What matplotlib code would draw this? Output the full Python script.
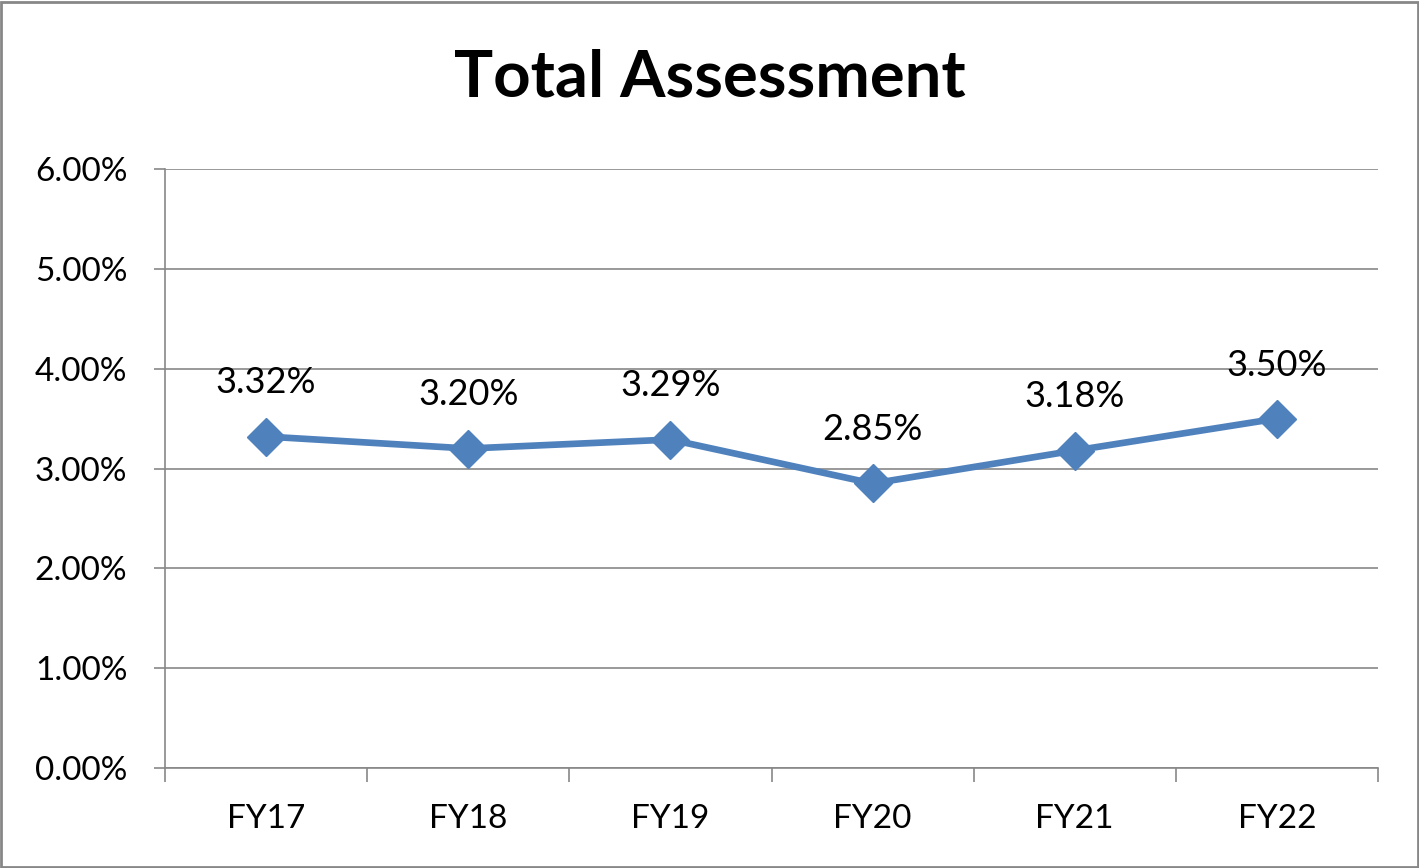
import matplotlib.pyplot as plt
from matplotlib.patches import Rectangle
from matplotlib.ticker import FixedLocator, PercentFormatter

categories = ["FY17", "FY18", "FY19", "FY20", "FY21", "FY22"]
values = [3.32, 3.20, 3.29, 2.85, 3.18, 3.50]
labels = ["3.32%", "3.20%", "3.29%", "2.85%", "3.18%", "3.50%"]

plt.rcParams['font.family'] = ['Lato', 'DejaVu Sans']

fig = plt.figure(figsize=(14.19, 8.68), dpi=100)
ax = fig.add_axes([165 / 1419, 1 - 768 / 868, 1213 / 1419, 599 / 868])

x = list(range(len(categories)))
ax.plot(x, values, color="#4F81BD", linewidth=4.8, marker="D", markersize=19,
        markeredgecolor="#4F81BD", zorder=3, clip_on=False)

for xi, v, lab in zip(x, values, labels):
    ax.annotate(lab, (xi, v), xytext=(0, 31), textcoords="offset points",
                ha="center", va="baseline", fontsize=26, color="#000000")

ax.set_xlim(-0.5, len(categories) - 0.5)
ax.set_ylim(0, 6)
ax.set_yticks([0, 1, 2, 3, 4, 5, 6])
ax.yaxis.set_major_formatter(PercentFormatter(decimals=2))
ax.grid(axis="y", color="#878787", linewidth=1.2)
ax.set_axisbelow(True)

ax.set_xticks(x)
ax.set_xticklabels(categories, fontsize=24)
ax.xaxis.set_minor_locator(FixedLocator([i - 0.5 for i in range(len(categories) + 1)]))
ax.tick_params(axis="x", which="major", length=0, pad=26)
ax.tick_params(axis="x", which="minor", length=10, color="#878787", width=1.2)
ax.tick_params(axis="y", length=8, color="#878787", width=1.2, labelsize=24, pad=19)

for s in ["top", "right"]:
    ax.spines[s].set_visible(False)
for s in ["left", "bottom"]:
    ax.spines[s].set_color("#878787")
    ax.spines[s].set_linewidth(1.2)

fig.text(710 / 1419, 1 - 78 / 868, "Total Assessment", ha="center", va="center",
         fontsize=47, fontweight="bold")

fig.patches.append(Rectangle((0.001, 0.001), 0.998, 0.997, transform=fig.transFigure,
                             fill=False, edgecolor="#878787", linewidth=2))

fig.savefig("out.png", dpi=100)
